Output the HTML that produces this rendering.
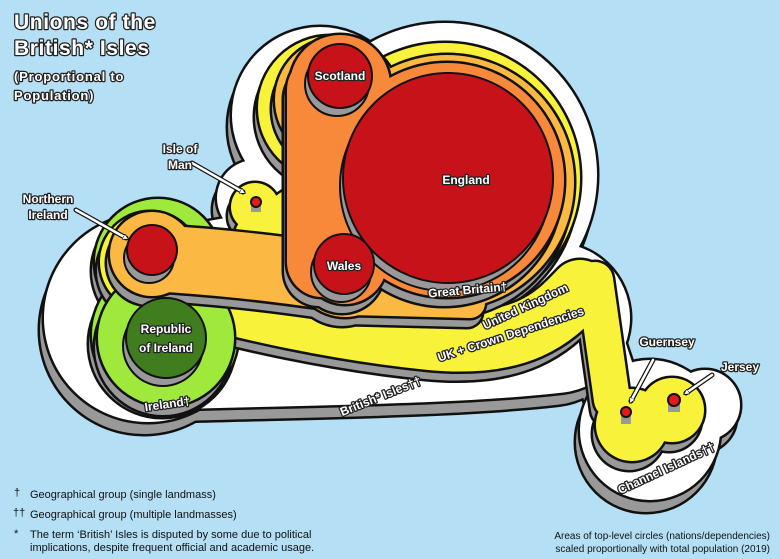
<!DOCTYPE html>
<html><head><meta charset="utf-8"><style>
html,body{margin:0;padding:0;background:#b4dff4;}
svg{display:block}
.t{font-family:"Liberation Sans",sans-serif;font-weight:bold;fill:#fff;stroke:#222;stroke-width:2.5px;paint-order:stroke;stroke-linejoin:round}
.l{font-family:"Liberation Sans",sans-serif;font-size:11px;fill:#111}
defs circle{fill:var(--c);stroke:var(--c);stroke-width:var(--e)}
defs path{fill:none;stroke:var(--c);stroke-width:calc(var(--w) + var(--e));stroke-linecap:round;stroke-linejoin:round}
.o{--c:#111;--e:5px}
.s{--c:#999;--e:0px}
</style></head><body>
<svg width="780" height="559" viewBox="0 0 780 559" xmlns="http://www.w3.org/2000/svg">
<defs>
<g id="bi">
<circle cx="445" cy="175" r="152"/><circle cx="320" cy="115" r="88"/><circle cx="255" cy="198" r="38"/>
<circle cx="148" cy="318" r="104"/><circle cx="650" cy="430" r="70"/><circle cx="705" cy="405" r="35"/>
<path style="--w:150px" d="M150,335 C300,330 450,330 555,318"/>
<path style="--w:60px" d="M150,262 L300,235"/>
<path style="--w:50px" d="M585,300 L615,390"/>
</g>
<g id="gr1"><circle cx="158" cy="262" r="63"/><circle cx="165" cy="335" r="73"/></g>
<g id="uk">
<circle cx="445" cy="178" r="135"/><circle cx="330" cy="108" r="72"/><circle cx="255" cy="207" r="24"/>
<circle cx="150" cy="262" r="50"/><circle cx="632" cy="425" r="36"/><circle cx="672" cy="410" r="32"/>
<path style="--w:60px" d="M160,288 C250,310 330,330 430,340 S560,310 580,290"/>
<path style="--w:30px" d="M255,215 L280,250"/>
<path style="--w:40px" d="M255,235 L305,200"/>
<path style="--w:36px" d="M595,280 L612,400"/>
<path style="--w:50px" d="M632,425 L672,410"/>
</g>
<g id="gr2"><circle cx="166" cy="338" r="68"/></g>
<g id="ukk">
<circle cx="447" cy="182" r="127"/><circle cx="337" cy="100" r="62"/><circle cx="152" cy="254" r="42"/><circle cx="345" cy="265" r="52"/>
<path style="--w:66px" d="M152,258 C220,262 270,268 320,275"/>
<path style="--w:30px" d="M350,300 L470,303"/>
</g>
<g id="gb">
<circle cx="447" cy="180" r="117"/><circle cx="340" cy="85" r="50"/><circle cx="345" cy="262" r="42"/>
<path style="--w:70px" d="M322,90 L322,262"/>
</g>
<marker id="ah" markerWidth="6" markerHeight="6" refX="3" refY="3" orient="auto" markerUnits="userSpaceOnUse" viewBox="0 0 6 6"><path d="M0,0 L6,3 L0,6 Z" style="fill:#fff;stroke:#111;stroke-width:0.8"/></marker>
</defs>
<use href="#bi" class="o" transform="translate(-4,12)"/><use href="#bi" class="s" transform="translate(-4,12)"/>
<use href="#bi" class="o"/><use href="#bi" style="--c:#fff;--e:0px"/>
<use href="#gr1" class="o" transform="translate(-3,9)"/><use href="#gr1" class="s" transform="translate(-3,9)"/>
<use href="#gr1" class="o"/><use href="#gr1" style="--c:#9fe83c;--e:0px"/>
<use href="#uk" class="o" transform="translate(-3,9)"/><use href="#uk" class="s" transform="translate(-3,9)"/>
<use href="#uk" class="o"/><use href="#uk" style="--c:#f8f23a;--e:0px"/>
<use href="#gr2" class="o" transform="translate(-3,9)"/><use href="#gr2" class="s" transform="translate(-3,9)"/>
<use href="#gr2" class="o"/><use href="#gr2" style="--c:#9fe83c;--e:0px"/>
<use href="#ukk" class="o" transform="translate(-3,9)"/><use href="#ukk" class="s" transform="translate(-3,9)"/>
<use href="#ukk" class="o"/><use href="#ukk" style="--c:#fbb843;--e:0px"/>
<use href="#gb" class="o" transform="translate(-3,9)"/><use href="#gb" class="s" transform="translate(-3,9)"/>
<use href="#gb" class="o"/><use href="#gb" style="--c:#f8883a;--e:0px"/>
<g stroke="#111" stroke-width="2">
<circle cx="337" cy="84" r="32" fill="#999"/><circle cx="340" cy="76" r="32" fill="#c8121a"/>
<circle cx="445" cy="186" r="105" fill="#999"/><circle cx="448" cy="178" r="105" fill="#c8121a"/>
<circle cx="341" cy="272" r="30" fill="#999"/><circle cx="344" cy="264" r="30" fill="#c8121a"/>
<circle cx="149" cy="258" r="25" fill="#999"/><circle cx="152" cy="250" r="25" fill="#c8121a"/>
<circle cx="163" cy="346" r="40" fill="#999"/><circle cx="166" cy="338" r="40" fill="#3f7d1e"/>
<rect x="251" y="202" width="10" height="10" fill="#999" stroke="none"/><circle cx="256" cy="202" r="5" fill="#e51b1b"/>
<rect x="621" y="412" width="10" height="12" fill="#999" stroke="none"/><circle cx="626" cy="412" r="5" fill="#e51b1b"/>
<rect x="668" y="400" width="12" height="12" fill="#999" stroke="none"/><circle cx="674" cy="400" r="6" fill="#e51b1b"/>
</g>
<g stroke-linecap="round">
<g stroke="#111" stroke-width="5"><line x1="76" y1="210" x2="126" y2="238"/><line x1="192" y1="163" x2="243" y2="192"/><line x1="653" y1="360" x2="631" y2="401"/><line x1="712" y1="375" x2="686" y2="393"/></g>
<g stroke="#fff" stroke-width="2.5" marker-end="url(#ah)"><line x1="76" y1="210" x2="126" y2="238"/><line x1="192" y1="163" x2="243" y2="192"/><line x1="653" y1="360" x2="631" y2="401"/><line x1="712" y1="375" x2="686" y2="393"/></g>
</g>
<g class="t" text-anchor="middle" font-size="12">
<text x="340" y="80">Scotland</text>
<text x="466" y="184">England</text>
<text x="344" y="270">Wales</text>
<text x="166" y="333">Republic</text>
<text x="166" y="352">of Ireland</text>
<text x="168" y="408" transform="rotate(-8 168 408)">Ireland†</text>
<text x="468" y="294" transform="rotate(-5 468 294)">Great Britain†</text>
<text x="527" y="310" transform="rotate(-25 527 310)">United Kingdom</text>
<text x="512" y="338" transform="rotate(-18 512 338)">UK + Crown Dependencies</text>
<text x="382" y="400" transform="rotate(-22 382 400)">British* Isles††</text>
<text x="668" y="472" transform="rotate(-25 668 472)">Channel Islands††</text>
<text x="667" y="346">Guernsey</text>
<text x="740" y="371">Jersey</text>
<text x="180" y="153">Isle of</text>
<text x="180" y="169">Man</text>
<text x="48" y="203">Northern</text>
<text x="48" y="219">Ireland</text>
</g>
<g class="t" font-size="21" stroke-width="3" letter-spacing="0.6">
<text x="14" y="29">Unions of the</text>
<text x="14" y="55">British* Isles</text>
</g>
<g class="t" font-size="13" letter-spacing="0.8">
<text x="14" y="81">(Proportional to</text>
<text x="14" y="100">Population)</text>
</g>
<g class="l">
<text x="14" y="496">†</text><text x="30" y="498">Geographical group (single landmass)</text>
<text x="13" y="516">††</text><text x="30" y="518">Geographical group (multiple landmasses)</text>
<text x="14" y="537">*</text><text x="30" y="538">The term ‘British’ Isles is disputed by some due to political</text>
<text x="30" y="551">implications, despite frequent official and academic usage.</text>
<text x="770" y="539" text-anchor="end" font-size="10">Areas of top-level circles (nations/dependencies)</text>
<text x="770" y="552" text-anchor="end" font-size="10">scaled proportionally with total population (2019)</text>
</g>
</svg>
</body></html>
